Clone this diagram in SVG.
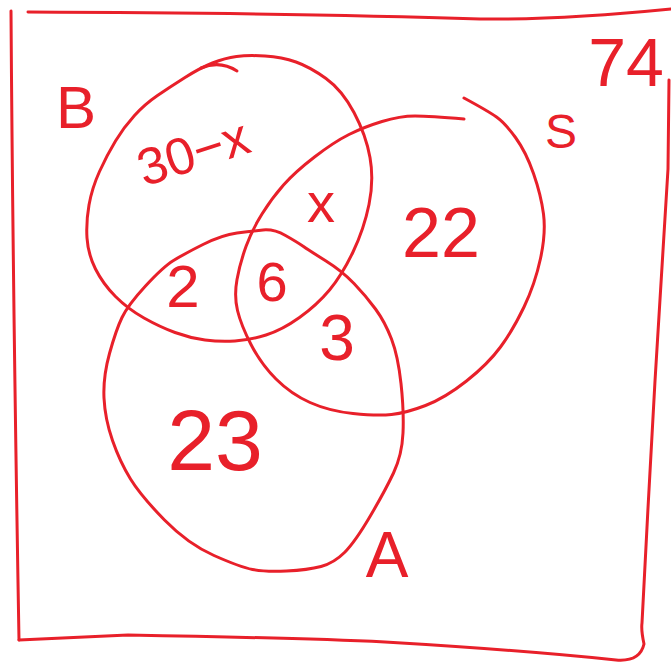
<svg xmlns="http://www.w3.org/2000/svg" width="671" height="664" viewBox="0 0 671 664">
<style>
.ln{fill:none;stroke:#e8202a;stroke-width:3;stroke-linecap:round;stroke-linejoin:round}
.tx{fill:#e8202a;font-family:"Liberation Sans","DejaVu Sans",sans-serif;text-anchor:middle}
</style>
<rect width="671" height="664" fill="#ffffff"/>
<g id="frame">
<path class="ln" d="M28,12 Q300,13 480,19 Q560,20 671,9"/>
<path class="ln" d="M11,11 Q13,300 19,640"/>
<path class="ln" d="M19,640 L128,635 Q300,638 385,642 Q520,650 616,660 Q640,662 644,644 Q641,630 642,623 L648,508 L655,381 L668,169 L669,80"/>
<text class="tx" x="626" y="86" font-size="68">74</text>
</g>
<g id="circle-B">
<path class="ln" d="M265,56 Q282,57 296,62 Q310,67 326,78.5 Q342,90 354,112.5 Q366,135 370,157.5 Q374,180 369,204.5 Q364,229 353,252 Q342,275 329.5,290 Q317,305 299.5,317.5 Q282,330 266,335 Q250,340 235,341 Q220,342 205,340 Q190,338 175,332.5 Q160,327 144,318 Q128,309 115.5,296.5 Q103,284 95.5,269 Q88,254 87,238 Q86,222 89,205 Q92,188 99.5,171.5 Q107,155 115.5,141 Q124,127 134.5,115.5 Q145,104 157.5,95.5 Q170,87 185,77.5 Q200,68 212.5,63 Q225,58 236.5,56.5 Q248,55 265,56 Z"/>
<path class="ln" d="M201,68 Q220,60 237,71"/>
<text class="tx" x="76" y="128" font-size="60">B</text>
</g>
<g id="circle-S">
<path class="ln" d="M464,119 Q430,116 415,116 Q400,116 382,121.5 Q364,127 349,134.5 Q334,142 314.5,157 Q295,172 283.5,185 Q272,198 262,214 Q252,230 246,246.5 Q240,263 237,279.5 Q234,296 237.5,310.5 Q241,325 251,344.5 Q261,364 276,379 Q291,394 310,402.5 Q329,411 353,413.5 Q377,416 391.5,414.5 Q406,413 425.5,405.5 Q445,398 466.5,381 Q488,364 500.5,347 Q513,330 524,307 Q535,284 540.5,258.5 Q546,233 543.5,214 Q541,195 533.5,173.5 Q526,152 515.5,137.5 Q505,123 496.5,117 Q488,111 464,98"/>
<text class="tx" x="561" y="148" font-size="48">S</text>
</g>
<g id="circle-A">
<path class="ln" d="M285.5,235.5 Q297,242 303.5,246.5 Q310,251 326,261 Q342,271 354,283.5 Q366,296 375.5,309 Q385,322 391.5,339 Q398,356 401,383.5 Q404,411 403,433 Q402,455 393.5,473 Q385,491 370,516.5 Q355,542 344.5,552.5 Q334,563 321,566.5 Q308,570 286.5,571 Q265,572 252.5,569.5 Q240,567 214,555.5 Q188,544 164.5,520 Q141,496 130.5,479 Q120,462 112.5,440.5 Q105,419 104,398 Q103,377 109.5,353.5 Q116,330 122,317.5 Q128,305 145.5,286 Q163,267 173.5,260.5 Q184,254 203,244.5 Q222,235 237,233 Q252,231 263,230 Q274,229 285.5,235.5 Z"/>
<text class="tx" x="387" y="577" font-size="64">A</text>
</g>
<g id="regions">
<text class="tx" x="193" y="170" font-size="52" transform="rotate(-18 193 152)">30−x</text>
<text class="tx" x="321" y="222" font-size="56">x</text>
<text class="tx" x="441" y="257" font-size="70">22</text>
<text class="tx" x="183" y="307" font-size="60">2</text>
<text class="tx" x="272" y="301" font-size="56">6</text>
<text class="tx" x="337" y="360" font-size="64">3</text>
<text class="tx" x="215" y="470" font-size="86">23</text>
</g>
<g id="connectors"/>
</svg>
